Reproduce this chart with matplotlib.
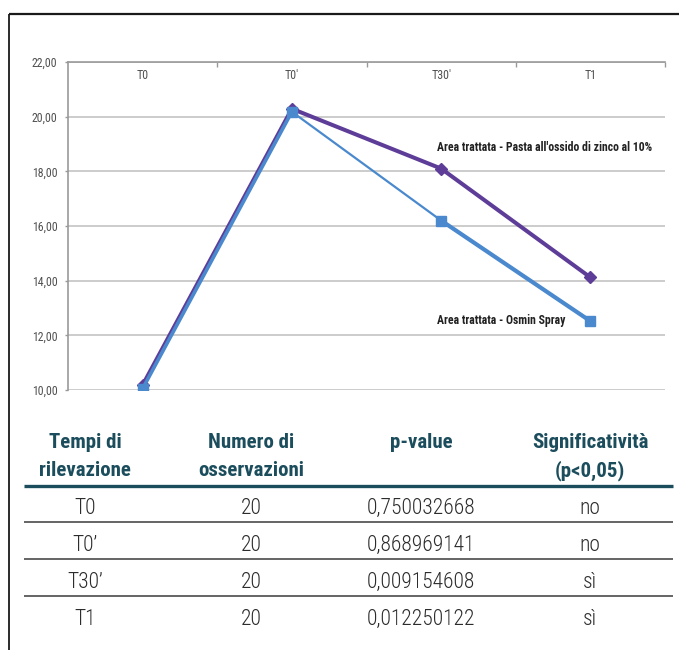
import numpy as np
import matplotlib.pyplot as plt
from matplotlib.ticker import FuncFormatter

plt.rcParams['font.family'] = ['Roboto Condensed', 'DejaVu Sans']
plt.rcParams['font.stretch'] = 'condensed'

# Andamento medio nei tempi di rilevazione
tempi = ["T0", "T0'", "T30'", "T1"]
pasta_zinco = [10.18, 20.29, 18.10, 14.12]
osmin_spray = [10.05, 20.18, 16.20, 12.52]
lab_pasta = "Area trattata - Pasta all'ossido di zinco al 10%"
lab_osmin = "Area trattata - Osmin Spray"

# Tabella del test
tab_header = [["Tempi di", "rilevazione"], ["Numero di", "osservazioni"],
              ["p-value"], ["Significatività", "(p<0,05)"]]
tab_tempi = ["T0", "T0’", "T30’", "T1"]
tab_n = [20, 20, 20, 20]
tab_pvalue = [0.750032668, 0.868969141, 0.009154608, 0.012250122]
tab_signif = ["no", "no", "sì", "sì"]

W, H = 679, 650
fig = plt.figure(figsize=(W / 100, H / 100), dpi=100)

# full-figure layer in pixel coords for the frame and the table
bg = fig.add_axes([0, 0, 1, 1])
bg.set_xlim(0, W)
bg.set_ylim(H, 0)
bg.axis('off')

# grafico
ax = fig.add_axes([68 / W, 1 - 390 / H, 597 / W, 328 / H])
x = np.arange(len(tempi))
purple = '#5e3d98'
blue = '#4a89cd'

ax.plot(x, pasta_zinco, color=purple, lw=2.9, marker='D', ms=6.5, zorder=3)
seg_lw = [2.6, 1.6, 3.0]
for i in range(len(x) - 1):
    ax.plot(x[i:i + 2], osmin_spray[i:i + 2], color=blue, lw=seg_lw[i], zorder=4,
            solid_capstyle='butt')
ax.plot(x, osmin_spray, ls='none', marker='s', ms=6.5, color=blue, zorder=5)

ax.set_xlim(-0.5, len(tempi) - 0.5)
ax.set_ylim(10, 22)
ax.set_yticks(np.arange(10, 23, 2))
ax.yaxis.set_major_formatter(FuncFormatter(lambda v, p: f"{v:.2f}".replace('.', ',')))
ax.tick_params(axis='y', length=2.5, width=1, color='#999999', pad=5,
               labelsize=8.6, labelcolor='#505050')
ax.grid(axis='y', color='#c4c4c4', lw=1.2)
ax.set_axisbelow(True)

ax.xaxis.tick_top()
ax.set_xticks(np.arange(0.5, len(tempi), 1))
ax.set_xticklabels([])
ax.tick_params(axis='x', direction='in', length=3.5, width=1, color='#999999')
for xi, t in zip(x, tempi):
    ax.text(xi, 21.5, t, ha='center', va='center', fontsize=8.6, color='#505050')

for s in ['bottom', 'right']:
    ax.spines[s].set_visible(False)
for s in ['top', 'left']:
    ax.spines[s].set_color('#9a9a9a')
    ax.spines[s].set_linewidth(1.2)

ax.text(1.97, 18.89, lab_pasta, ha='left', va='center', fontsize=8.5,
        fontweight='bold', color='#222222')
ax.text(1.97, 12.56, lab_osmin, ha='left', va='center', fontsize=8.5,
        fontweight='bold', color='#222222')

# cornice
bg.plot([9, W], [14, 14], color='#1a1a1a', lw=1.6, solid_capstyle='butt')
bg.plot([9, 9], [14, H], color='#1a1a1a', lw=1.3, solid_capstyle='butt')

# tabella
teal = '#1b4d5c'
col_x = [85, 251, 421, 590]
head_base = [448, 476]
for cx, lines in zip(col_x, tab_header):
    for yb, s in zip(head_base, lines):
        bg.text(cx, yb, s, ha='center', va='baseline', fontsize=15,
                fontweight='bold', color=teal)
bg.plot([24, 673], [486, 486], color=teal, lw=2.4, solid_capstyle='butt')

row_base = [514, 551, 588, 625]
for i, yb in enumerate(row_base):
    cells = [tab_tempi[i], str(tab_n[i]),
             f"{tab_pvalue[i]:.9f}".replace('.', ','), tab_signif[i]]
    for cx, s in zip(col_x, cells):
        bg.text(cx, yb, s, ha='center', va='baseline', fontsize=15.5,
                fontweight='light', color='#2c2c2c')
    if i < len(row_base) - 1:
        bg.plot([24, 673], [yb + 8, yb + 8], color='#3a3a3a', lw=1.1,
                solid_capstyle='butt')

fig.savefig('out.png', dpi=100)
